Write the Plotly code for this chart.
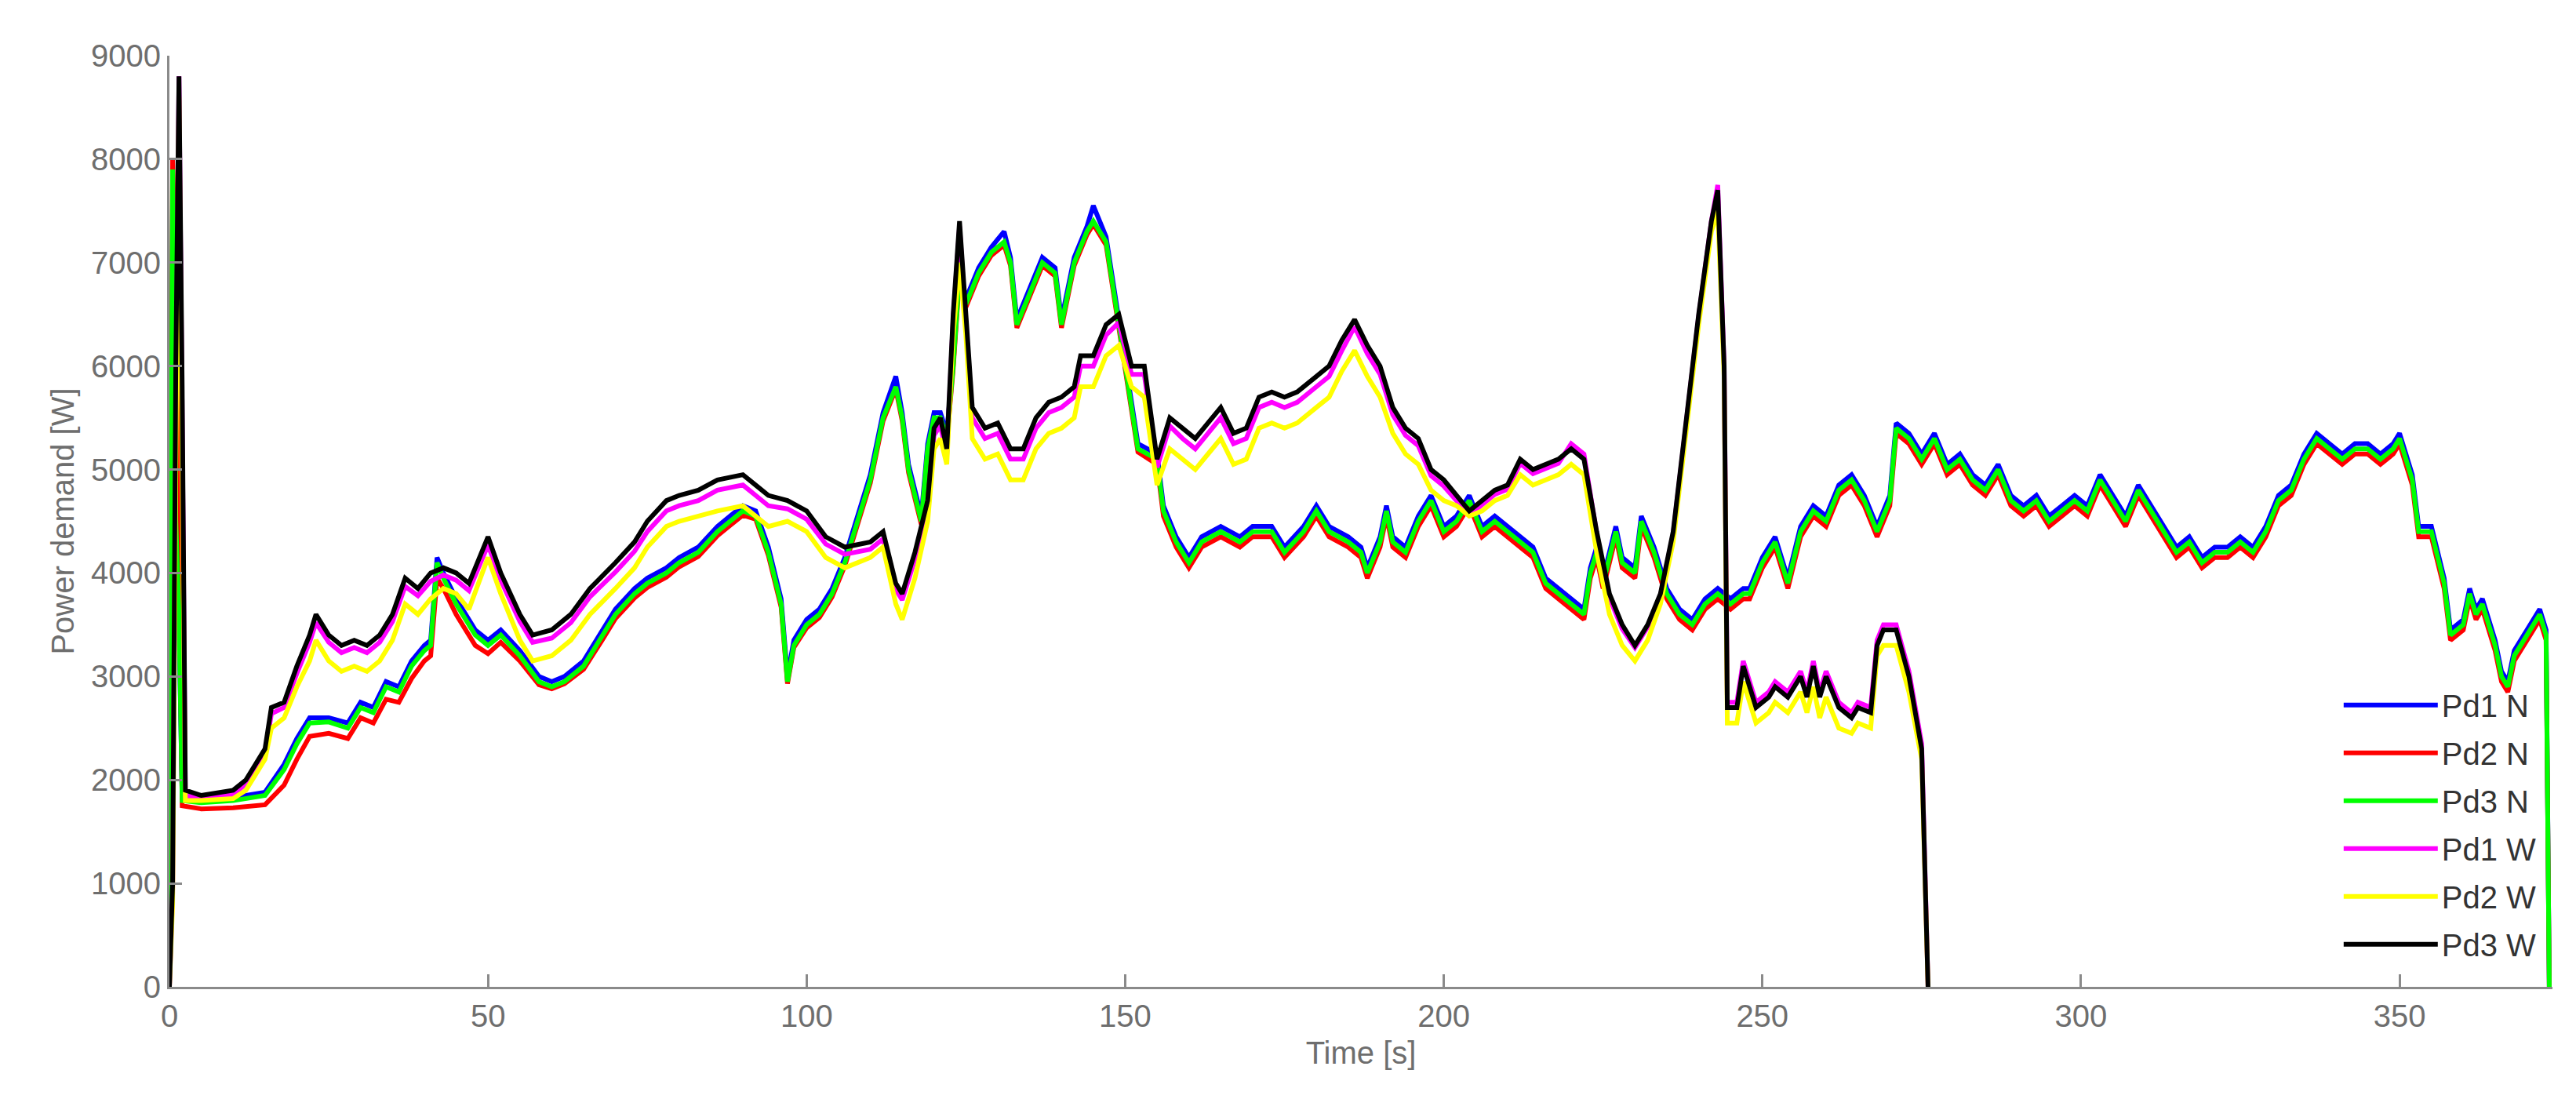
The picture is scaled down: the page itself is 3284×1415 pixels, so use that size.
import plotly.graph_objects as go

# ---- N group (shared time axis) ----
t_N = [0,0.5,1,1.5,2,5,10,15,18,20,
       22,25,28,30,32,34,36,38,40,41,
       42,43,45,48,50,52,55,58,60,62,
       65,68,70,73,75,78,80,83,86,88,
       90,92,94,96,97,98,100,102,104,106,
       108,110,112,114,115,116,118,119,120,121,
       122,123,124,125,127,129,131,132,133,135,
       137,139,140,142,144,145,147,148,150,152,
       155,156,158,160,162,165,168,170,173,175,
       178,180,182,185,187,188,190,191,192,194,
       196,198,200,202,204,206,208,210,212,214,
       216,218,220,222,223,224,225,227,228,230,
       231,233,235,237,239,241,243,245,247,248,
       250,252,254,256,258,260,262,264,266,268,
       270,271,273,275,277,279,281,283,285,287,
       289,291,293,295,297,299,301,303,305,307,
       309,311,313,315,317,319,321,323,325,327,
       329,331,333,335,337,339,341,343,345,347,
       349,350,351,352,353,355,357,358,360,361,
       362,363,365,366,367,368,370,371,372,373,
       373.5]

pd3_N = [0,7900,4500,3600,1800,1780,1800,1850,2100,2350,
         2550,2560,2500,2700,2650,2900,2850,3100,3250,3300,
         4100,3950,3700,3400,3300,3400,3200,2950,2900,2950,
         3100,3400,3600,3800,3900,4000,4100,4200,4400,4500,
         4600,4550,4200,3700,2950,3300,3500,3600,3800,4100,
         4500,4900,5500,5800,5500,5000,4500,5200,5500,5500,
         5300,6000,6900,6600,6900,7100,7200,7000,6400,6700,
         7000,6900,6400,7000,7300,7400,7200,6800,6000,5200,
         5100,4600,4300,4100,4300,4400,4300,4400,4400,4200,
         4400,4600,4400,4300,4200,4000,4300,4600,4300,4200,
         4500,4700,4400,4500,4700,4400,4500,4400,4300,4200,
         3900,3800,3700,3600,4000,4200,3900,4400,4100,4000,
         4500,4200,3800,3600,3500,3700,3800,3700,3800,3800,
         4100,4300,3900,4400,4600,4500,4800,4900,4700,4400,
         4700,5400,5300,5100,5300,5000,5100,4900,4800,5000,
         4700,4600,4700,4500,4600,4700,4600,4900,4700,4500,
         4800,4600,4400,4200,4300,4100,4200,4200,4300,4200,
         4400,4700,4800,5100,5300,5200,5100,5200,5200,5100,
         5200,5300,5100,4900,4400,4400,3900,3400,3500,3800,
         3600,3700,3300,3000,2900,3200,3400,3500,3600,3400,
         0]

pd1_N = [0,7700,4300,3500,1830,1810,1830,1880,2150,2400,
         2600,2600,2550,2750,2700,2950,2900,3150,3300,3350,
         4150,4000,3750,3450,3350,3450,3250,3000,2950,3000,
         3150,3450,3650,3850,3950,4050,4150,4250,4450,4550,
         4650,4600,4250,3750,3000,3350,3550,3650,3850,4150,
         4550,4950,5550,5900,5550,5050,4550,5250,5550,5550,
         5350,6050,6950,6650,6950,7150,7300,7050,6450,6750,
         7050,6950,6450,7050,7350,7550,7250,6850,6050,5250,
         5150,4650,4350,4150,4350,4450,4350,4450,4450,4250,
         4450,4650,4450,4350,4250,4050,4350,4650,4350,4250,
         4550,4750,4450,4550,4750,4450,4550,4450,4350,4250,
         3950,3850,3750,3650,4050,4250,3950,4450,4150,4050,
         4550,4250,3850,3650,3550,3750,3850,3750,3850,3850,
         4150,4350,3950,4450,4650,4550,4850,4950,4750,4450,
         4750,5450,5350,5150,5350,5050,5150,4950,4850,5050,
         4750,4650,4750,4550,4650,4750,4650,4950,4750,4550,
         4850,4650,4450,4250,4350,4150,4250,4250,4350,4250,
         4450,4750,4850,5150,5350,5250,5150,5250,5250,5150,
         5250,5350,5150,4950,4450,4450,3950,3450,3550,3850,
         3650,3750,3350,3050,2950,3250,3450,3550,3650,3450,
         0]

pd2_N = [0,8000,6700,4000,1750,1720,1730,1760,1950,2200,
         2420,2450,2400,2600,2550,2780,2750,2980,3150,3200,
         3950,3850,3600,3300,3220,3330,3150,2920,2880,2930,
         3070,3360,3560,3760,3860,3960,4060,4160,4360,4460,
         4560,4520,4170,3670,2930,3280,3470,3570,3770,4070,
         4470,4870,5470,5780,5470,4970,4470,5170,5470,5470,
         5270,5970,6870,6570,6870,7070,7170,6970,6370,6670,
         6970,6870,6370,6970,7270,7370,7170,6770,5970,5170,
         5050,4550,4250,4050,4250,4350,4250,4350,4350,4150,
         4350,4550,4350,4250,4150,3950,4250,4550,4250,4150,
         4450,4650,4350,4450,4650,4350,4450,4350,4250,4150,
         3850,3750,3650,3550,3950,4150,3850,4350,4050,3950,
         4450,4150,3750,3550,3450,3650,3750,3650,3750,3750,
         4050,4250,3850,4350,4550,4450,4750,4850,4650,4350,
         4650,5350,5250,5050,5250,4950,5050,4850,4750,4950,
         4650,4550,4650,4450,4550,4650,4550,4850,4650,4450,
         4750,4550,4350,4150,4250,4050,4150,4150,4250,4150,
         4350,4650,4750,5050,5250,5150,5050,5150,5150,5050,
         5150,5250,5050,4850,4350,4350,3850,3350,3450,3750,
         3550,3650,3250,2950,2850,3150,3350,3450,3550,3350,
         0]

# ---- W group (shared time axis) ----
t_W = [0,0.5,1,1.5,2,2.5,5,10,12,15,
       16,18,20,22,23,25,27,29,31,33,
       35,37,39,41,43,45,47,50,52,55,
       57,60,63,66,70,73,75,78,80,83,
       86,90,92,94,97,100,103,106,110,112,
       114,115,117,119,120,121,122,123,124,125,
       126,128,130,132,134,136,138,140,142,143,
       145,147,149,151,153,155,157,159,161,163,
       165,167,169,171,173,175,177,180,182,184,
       186,188,190,192,194,196,198,200,202,204,
       206,208,210,212,214,216,218,220,222,224,
       226,228,230,232,234,236,238,240,242,243,
       244,244.5,246,247,249,251,252,254,256,257,
       258,259,260,262,264,265,267,268,269,271,
       273,275,276]

pd3_W = [0,1000,6000,8800,5800,1900,1850,1900,2000,2300,
         2700,2750,3100,3400,3600,3400,3300,3350,3300,3400,
         3600,3950,3850,4000,4050,4000,3900,4350,4000,3600,
         3400,3450,3600,3850,4100,4300,4500,4700,4750,4800,
         4900,4950,4850,4750,4700,4600,4350,4250,4300,4400,
         3900,3800,4200,4700,5400,5500,5200,6500,7400,6500,
         5600,5400,5450,5200,5200,5500,5650,5700,5800,6100,
         6100,6400,6500,6000,6000,5100,5500,5400,5300,5450,
         5600,5350,5400,5700,5750,5700,5750,5900,6000,6250,
         6450,6200,6000,5600,5400,5300,5000,4900,4750,4600,
         4700,4800,4850,5100,5000,5050,5100,5200,5100,4400,
         3800,3500,3300,3500,3800,4400,5500,6500,7400,7700,
         6000,2700,2700,3100,2700,2800,2900,2800,3000,2800,
         3100,2800,3000,2700,2600,2700,2650,3300,3450,3450,
         3000,2300,0]

pd1_W = [0,900,5500,8800,5500,1850,1820,1860,1960,2250,
         2640,2700,3030,3330,3520,3330,3230,3280,3230,3330,
         3530,3870,3780,3920,3980,3930,3830,4270,3930,3530,
         3330,3370,3520,3770,4010,4210,4400,4600,4650,4700,
         4800,4850,4750,4650,4620,4520,4280,4180,4230,4330,
         3840,3740,4130,4630,5330,5430,5130,6450,7350,6450,
         5500,5300,5350,5100,5100,5400,5550,5600,5700,6000,
         6000,6300,6420,5920,5920,5020,5420,5300,5200,5350,
         5500,5250,5300,5600,5650,5600,5650,5800,5900,6150,
         6380,6120,5920,5530,5330,5230,4940,4840,4700,4560,
         4660,4760,4810,5060,4960,5010,5060,5250,5150,4380,
         3760,3460,3280,3480,3780,4380,5480,6480,7400,7750,
         6000,2750,2750,3150,2750,2850,2950,2850,3050,2850,
         3150,2850,3050,2750,2650,2750,2700,3350,3500,3500,
         3050,2350,0]

pd2_W = [0,800,5000,8600,5000,1800,1800,1820,1900,2200,
         2500,2600,2900,3150,3350,3150,3050,3100,3050,3150,
         3350,3700,3600,3750,3850,3800,3650,4150,3800,3350,
         3150,3200,3350,3600,3850,4050,4250,4450,4500,4550,
         4600,4650,4550,4450,4500,4400,4150,4050,4150,4250,
         3700,3550,3950,4500,5200,5300,5050,6300,7000,6300,
         5300,5100,5150,4900,4900,5200,5350,5400,5500,5800,
         5800,6100,6200,5800,5700,4850,5200,5100,5000,5150,
         5300,5050,5100,5400,5450,5400,5450,5600,5700,5950,
         6150,5900,5700,5350,5150,5050,4800,4700,4650,4550,
         4600,4700,4750,4950,4850,4900,4950,5050,4950,4200,
         3600,3300,3150,3350,3700,4300,5400,6400,7300,7500,
         5900,2550,2550,2950,2550,2650,2750,2650,2850,2650,
         2900,2600,2800,2500,2450,2550,2500,3200,3300,3300,
         2850,2200,0]

series = [
    ("Pd1 N", t_N, pd1_N, "#0000ff"),
    ("Pd2 N", t_N, pd2_N, "#ff0000"),
    ("Pd3 N", t_N, pd3_N, "#00ff00"),
    ("Pd1 W", t_W, pd1_W, "#ff00ff"),
    ("Pd2 W", t_W, pd2_W, "#ffff00"),
    ("Pd3 W", t_W, pd3_W, "#000000"),
]
fig = go.Figure()
for i, (name, t, v, c) in enumerate(series):
    fig.add_trace(go.Scatter(x=t, y=v, mode="lines", name=name,
                             line=dict(color=c, width=6), legendgroup=str(i)))

gray = "#6e6e6e"
fig.update_layout(
    width=3284, height=1415,
    paper_bgcolor="white", plot_bgcolor="white",
    margin=dict(l=208, r=38, t=63, b=165),
    font=dict(family="Liberation Sans, Arial, sans-serif", color=gray, size=40),
    showlegend=True,
    legend=dict(x=0.995, xanchor="right", y=0.33, yanchor="top",
                font=dict(size=40, color="#333333"), bgcolor="rgba(0,0,0,0)",
                tracegroupgap=6, itemwidth=120),
)
fig.update_xaxes(range=[0, 374], tickvals=[0, 50, 100, 150, 200, 250, 300, 350],
                 showline=True, linecolor="#8a8a8a", linewidth=3,
                 ticks="inside", ticklen=16, tickwidth=3, tickcolor="#8a8a8a",
                 showgrid=False, zeroline=False,
                 title=dict(text="Time [s]", font=dict(size=40, color=gray), standoff=12))
fig.update_yaxes(range=[0, 9000], tickvals=list(range(0, 9001, 1000)),
                 showline=True, linecolor="#8a8a8a", linewidth=3,
                 ticks="inside", ticklen=16, tickwidth=3, tickcolor="#8a8a8a",
                 showgrid=False, zeroline=False,
                 title=dict(text="Power demand [W]", font=dict(size=40, color=gray), standoff=10))
fig.write_html("out.html")
